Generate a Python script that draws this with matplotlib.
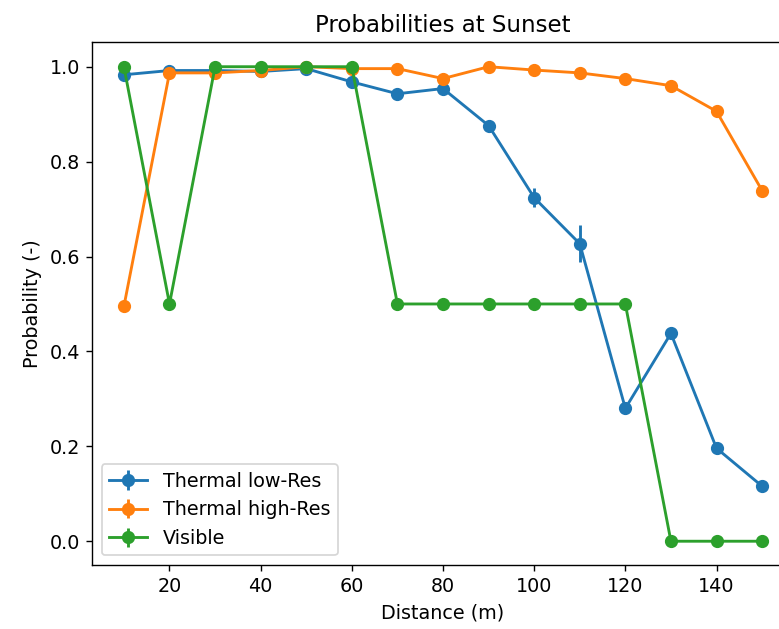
import matplotlib
matplotlib.use("Agg")
import matplotlib.pyplot as plt

# distances (m)
distance = [10, 20, 30, 40, 50, 60, 70, 80, 90, 100, 110, 120, 130, 140, 150]

# probabilities
thermal_low = [0.983, 0.992, 0.992, 0.990, 0.996, 0.968, 0.943, 0.954, 0.876,
               0.724, 0.627, 0.280, 0.438, 0.196, 0.116]
thermal_low_err = [0.004, 0.003, 0.003, 0.004, 0.003, 0.005, 0.005, 0.005, 0.008,
                   0.020, 0.039, 0.006, 0.006, 0.005, 0.005]

thermal_high = [0.495, 0.987, 0.987, 0.992, 1.000, 0.996, 0.996, 0.975, 1.000,
                0.993, 0.987, 0.975, 0.960, 0.906, 0.739]
thermal_high_err = [0.004, 0.003, 0.003, 0.003, 0.002, 0.002, 0.002, 0.003, 0.002,
                    0.003, 0.003, 0.003, 0.004, 0.005, 0.006]

visible = [1.0, 0.5, 1.0, 1.0, 1.0, 1.0, 0.5, 0.5, 0.5, 0.5, 0.5, 0.5, 0.0, 0.0, 0.0]
visible_err = [0.0] * len(distance)

plt.rcParams['font.size'] = 11
plt.rcParams['lines.linewidth'] = 1.65
plt.rcParams['lines.markersize'] = 6.6

fig = plt.figure(figsize=(779 / 125, 629 / 125), dpi=125)
ax = fig.add_axes([92 / 779, 1 - 565 / 629, 702 / 779, 523 / 629])

ax.errorbar(distance, thermal_low, yerr=thermal_low_err, fmt='-o', label='Thermal low-Res')
ax.errorbar(distance, thermal_high, yerr=thermal_high_err, fmt='-o', label='Thermal high-Res')
ax.errorbar(distance, visible, yerr=visible_err, fmt='-o', label='Visible')

ax.set_title('Probabilities at Sunset')
ax.set_xlabel('Distance (m)')
ax.set_ylabel('Probability (-)')
ax.legend(loc='lower left')

fig.savefig('out.png', dpi=125)
